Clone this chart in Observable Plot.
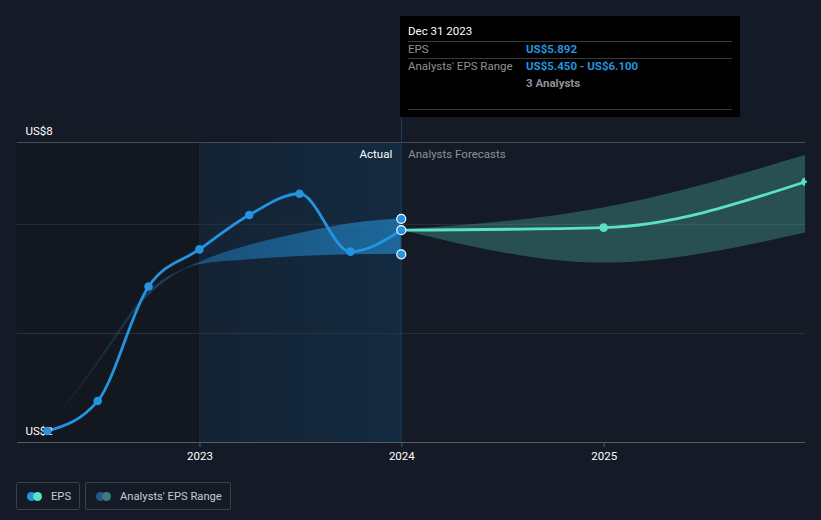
<!DOCTYPE html>
<html><head><meta charset="utf-8">
<script src="https://cdn.jsdelivr.net/npm/d3@7"></script>
<script src="https://cdn.jsdelivr.net/npm/@observablehq/plot@0.6"></script>
<style>
html,body{margin:0;padding:0;background:#151b26;width:821px;height:520px;overflow:hidden;font-family:Roboto,"Noto Sans",sans-serif;}
#wrap{position:relative;width:821px;height:520px;}
#chart{position:absolute;left:0;top:0;}
#tip{position:absolute;top:16px;width:340px;height:101px;background:#000;font-size:11.5px;}
#tip span{position:absolute;line-height:14px;white-space:nowrap;}
#tip .sep{position:absolute;left:8px;width:324px;height:1px;background:#3a3a3a;}
#tip .lab{left:8px;color:#8c9097;}
#tip .val{left:126px;color:#2394df;font-weight:bold;}
#pointer{position:absolute;width:1px;background:#1f3d5a;}
.legend{position:absolute;top:482px;left:16px;display:flex;gap:5px;}
.item{box-sizing:border-box;height:28px;border:1px solid #3b414b;border-radius:2px;display:flex;align-items:center;padding:0 8px 0 10px;color:#c6cad0;font-size:11.2px;}
.ic{position:relative;width:15px;height:9px;margin-right:9px;}
.ic i{position:absolute;top:0;width:9px;height:9px;border-radius:50%;}
</style></head>
<body><div id="wrap"><div id="chart"></div><div id="pointer"></div><div id="tip"></div>
<div class="legend">
<div class="item"><div class="ic"><i style="left:0;background:#2394df"></i><i style="left:6px;background:#5ce1c9"></i></div>EPS</div>
<div class="item"><div class="ic"><i style="left:0;background:#1f5a8a"></i><i style="left:6px;background:#3d7c79"></i></div>Analysts' EPS Range</div>
</div></div>
<script>
// ---- data ----
const pastDates = ["2022-03-31","2022-06-30","2022-09-30","2022-12-31","2023-03-31","2023-06-30","2023-09-30","2023-12-31"];
const pastEps   = [2.21, 2.76, 4.86, 5.54, 6.17, 6.56, 5.50, 5.892];
const pastLow   = [2.21, 3.42, 4.68, 5.26, 5.35, 5.41, 5.44, 5.45];
const pastHigh  = [2.21, 3.48, 4.76, 5.30, 5.61, 5.83, 6.01, 6.10];
const fcDates = ["2023-12-31","2024-12-31","2025-12-31"];
const fcEps   = [5.892, 5.94, 6.78];
const fcLow   = [5.892, 5.29, 5.84];
const fcHigh  = [5.892, 6.30, 7.26];
const analystCount = 3;
const yTickValues = [2, 4, 6];
const yLabelValues = [7.5, 2];
const yLabelText = ["US$8", "US$2"];
const xTickYears = ["2023-01-01","2024-01-01","2025-01-01"];
const xDomain = ["2022-02-05","2025-12-31"];

const P = s => new Date(s + "T00:00:00");
const past = pastDates.map((d,i)=>({date:P(d), eps:pastEps[i], lo:pastLow[i], hi:pastHigh[i]}));
const fc = fcDates.map((d,i)=>({date:P(d), eps:fcEps[i], lo:fcLow[i], hi:fcHigh[i]}));
const last = past[past.length-1];
const x0 = P(xDomain[0]), x1 = P(xDomain[1]);
const t2023 = P(xTickYears[0]);

const plot = Plot.plot({
  width: 821, height: 470,
  marginLeft: 17, marginRight: 16, marginTop: 142, marginBottom: 28,
  style: {background: "transparent", fontFamily: "Roboto, sans-serif", fontSize: "11.5px", color: "#fff", overflow: "visible"},
  x: {type: "time", domain: [x0, x1], axis: null},
  y: {domain: [2, 7.5], axis: null},
  marks: [
    Plot.rect([{a: x0, b: t2023}], {x1: "a", x2: "b", fill: "#13171f"}),
    Plot.rect([{a: t2023, b: last.date}], {x1: "a", x2: "b", fill: "url(#hl)"}),
    Plot.ruleY(yTickValues.slice(1), {stroke: "#2d333d", strokeWidth: 1}),
    Plot.ruleY([7.5], {stroke: "#474c55", strokeWidth: 1}),
    Plot.ruleX([t2023], {stroke: "#1b2c40", strokeWidth: 1}),
    Plot.ruleX([last.date], {stroke: "#1f3d5a", strokeWidth: 1}),
    Plot.ruleY([2], {stroke: "#555b64", strokeWidth: 1}),
    Plot.axisX({ticks: xTickYears.map(P), tickFormat: "%Y", tickSize: 5, tickPadding: 4, stroke: "#555b64", color: "#fff", fontSize: 11.5}),
    Plot.areaY(past, {x: "date", y1: "lo", y2: "hi", fill: "url(#pastBand)", curve: "monotone-x"}),
    Plot.areaY(fc, {x: "date", y1: "lo", y2: "hi", fill: "#5ce1c9", fillOpacity: 0.27, curve: "monotone-x"}),
    Plot.lineY(fc, {x: "date", y: "eps", stroke: "#5ce1c9", strokeWidth: 2.8, curve: "monotone-x"}),
    Plot.lineY(past, {x: "date", y: "eps", stroke: "#2394df", strokeWidth: 2.8, curve: "monotone-x"}),
    Plot.text(yLabelValues, {x: x0, y: d => d, text: (d,i) => yLabelText[i], dx: 8, dy: -11, textAnchor: "start", fill: "#fff", fontSize: 11.5}),
    Plot.text(["Actual"], {x: last.date, y: 7.5, dx: -9, dy: 12, textAnchor: "end", fill: "#fff", fontSize: 11.5}),
    Plot.text(["Analysts Forecasts"], {x: last.date, y: 7.5, dx: 7, dy: 12, textAnchor: "start", fill: "#8c9097", fontSize: 11.5}),
    Plot.dot(past.slice(0,-1), {x: "date", y: "eps", r: 4.3, fill: "#2394df"}),
    Plot.dot(fc.slice(1), {x: "date", y: "eps", r: 4.3, fill: "#5ce1c9", clip: "frame"}),
    Plot.dot([last], {x: "date", y: "hi", r: 4.5, fill: "#2394df", stroke: "#fff", strokeWidth: 1.2}),
    Plot.dot([last], {x: "date", y: "lo", r: 4.5, fill: "#2394df", stroke: "#fff", strokeWidth: 1.2}),
    Plot.dot([last], {x: "date", y: "eps", r: 4.5, fill: "#2394df", stroke: "#fff", strokeWidth: 1.2})
  ]
});
const defs = document.createElementNS("http://www.w3.org/2000/svg", "defs");
defs.innerHTML = `<linearGradient id="hl" x1="0" x2="1" y1="0" y2="0"><stop offset="0" stop-color="#142334"/><stop offset="1" stop-color="#142a40"/></linearGradient>
<linearGradient id="pastBand" x1="0" x2="1" y1="0" y2="0"><stop offset="0" stop-color="#2394df" stop-opacity="0.05"/><stop offset="0.43" stop-color="#2394df" stop-opacity="0.4"/><stop offset="1" stop-color="#2394df" stop-opacity="0.58"/></linearGradient>`;
plot.prepend(defs);
document.getElementById("chart").appendChild(plot);

const xs = plot.scale("x"), ysc = plot.scale("y");
const px = Math.round(xs.apply(last.date));
const tip = document.getElementById("tip");
tip.style.left = (px - 1) + "px";
const fmt = d3.format(".3f"), fmtDate = d3.timeFormat("%b %-d %Y");
tip.innerHTML = `<span style="left:8px;top:8px;color:#fff">${fmtDate(last.date)}</span>
<div class="sep" style="top:25px"></div>
<span class="lab" style="top:26px">EPS</span><span class="val" style="top:26px">US$${fmt(last.eps)}</span>
<div class="sep" style="top:42px"></div>
<span class="lab" style="top:43px">Analysts' EPS Range</span><span class="val" style="top:43px">US$${fmt(last.lo)} - US$${fmt(last.hi)}</span>
<span class="val" style="top:60px;color:#8c9097">${analystCount} Analysts</span>
<div class="sep" style="top:93px"></div>`;
const pointer = document.getElementById("pointer");
pointer.style.left = px + "px";
pointer.style.top = "117px";
pointer.style.height = (ysc.apply(7.5) - 117) + "px";
</script></body></html>
